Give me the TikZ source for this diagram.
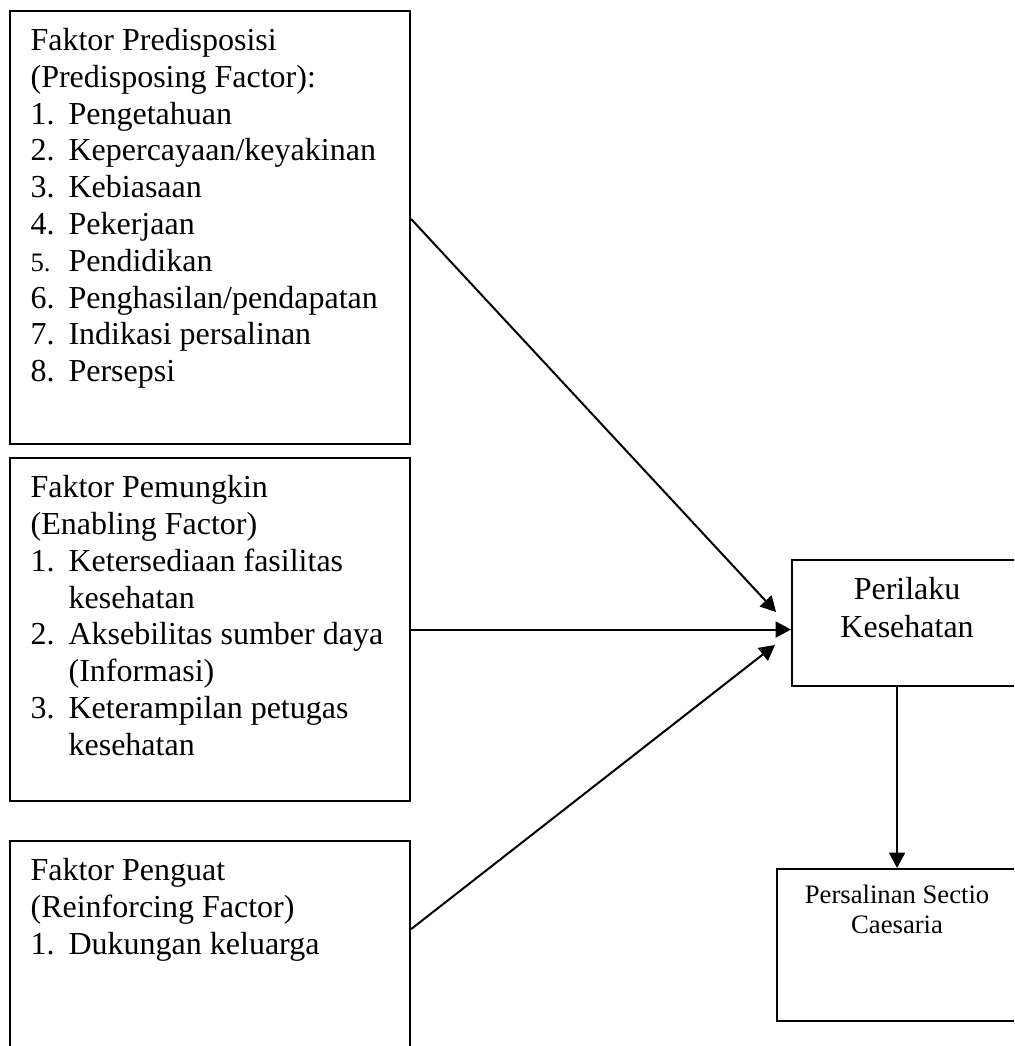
\documentclass[tikz,border=0pt]{standalone}
\usepackage{fontspec}
\setmainfont{Liberation Serif}
\usetikzlibrary{arrows.meta}

\tikzset{
  box/.style={draw, line width=0.8pt, anchor=north west, inner sep=0pt},
  boxtext/.style={anchor=north west, align=left, inner sep=0pt, xshift=7.9pt, yshift=-6.7pt,
    font=\fontsize{12}{13.8}\selectfont},
  link/.style={line width=0.75pt, -{Triangle[length=5.8pt,width=6pt]}}
}
\newcommand{\itemno}[1]{\makebox[14.25pt][l]{#1}}

\begin{document}
\begin{tikzpicture}[x=0.375pt, y=-0.375pt]
  \useasboundingbox (0,0) rectangle (1014,1046);
  \clip (0,0) rectangle (1014,1046);

  % left column
  \node[box, minimum width=150pt, minimum height=162.4pt] (pred) at (9,10) {};
  \node[boxtext] (predtext) at (pred.north west) {Faktor Predisposisi\\
    (Predisposing Factor):\\
    \itemno{1.}Pengetahuan\\
    \itemno{2.}Kepercayaan/keyakinan\\
    \itemno{3.}Kebiasaan\\
    \itemno{4.}Pekerjaan\\
    \itemno{\fontsize{10}{12}\selectfont 5.}Pendidikan\\
    \itemno{6.}Penghasilan/pendapatan\\
    \itemno{7.}Indikasi persalinan\\
    \itemno{8.}Persepsi};

  \node[box, minimum width=150pt, minimum height=128.6pt] (ena) at (9,457) {};
  \node[boxtext] (enatext) at (ena.north west) {Faktor Pemungkin\\
    (Enabling Factor)\\
    \itemno{1.}Ketersediaan fasilitas\\
    \itemno{}kesehatan\\
    \itemno{2.}Aksebilitas sumber daya\\
    \itemno{}(Informasi)\\
    \itemno{3.}Keterampilan petugas\\
    \itemno{}kesehatan};

  \node[box, minimum width=150pt, minimum height=82.5pt] (reinf) at (9,840) {};
  \node[boxtext] (reinftext) at (reinf.north west) {Faktor Penguat\\
    (Reinforcing Factor)\\
    \itemno{1.}Dukungan keluarga};

  % right column
  \node[box, minimum width=86.25pt, minimum height=47.25pt] (perilaku) at (791,559) {};
  \node[anchor=north, align=center, inner sep=0pt, yshift=-6.7pt,
    font=\fontsize{12}{14.2}\selectfont] (perilakutext) at (perilaku.north) {Perilaku\\Kesehatan};

  \node[box, minimum width=90pt, minimum height=57pt] (caesar) at (776,868) {};
  \node[anchor=north, align=center, inner sep=0pt, yshift=-6.2pt,
    font=\fontsize{10}{11.25}\selectfont] (caesartext) at (caesar.north) {Persalinan Sectio\\Caesaria};

  \coordinate (in1) at ([xshift=-5.6pt, yshift=4.1pt]perilaku.west);
  \coordinate (in3) at ([xshift=-6pt, yshift=-8.2pt]perilaku.west);

  \draw[link] ([yshift=3.2pt]pred.east) -- (in1);
  \draw[link] (ena.east) -- (ena.east -| perilaku.west);
  \draw[link] ([yshift=-33.4pt]reinf.north east) -- (in3);
  \draw[link] (caesar.north |- perilaku.south) -- (caesar.north);
\end{tikzpicture}
\end{document}
